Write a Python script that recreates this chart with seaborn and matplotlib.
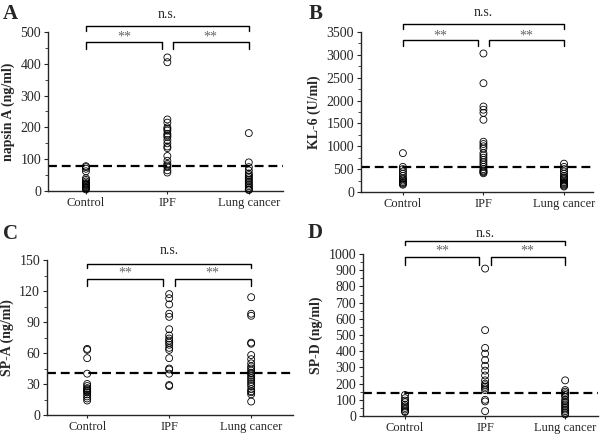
import matplotlib
matplotlib.use("Agg")
import matplotlib.pyplot as plt
import matplotlib.transforms as mtransforms
from matplotlib.ticker import MultipleLocator
import pandas as pd
import seaborn as sns

groups = ["Control", "IPF", "Lung cancer"]

# napsin A (ng/ml)
napsin_control = [5, 8, 10, 12, 15, 18, 20, 22, 25, 30, 35, 40, 62, 70, 75, 78]
napsin_ipf = [420, 405, 225, 215, 200, 195, 190, 180, 175, 170, 160, 150, 140,
              135, 110, 95, 85, 80, 75, 65, 58]
napsin_lung = [182, 90, 75, 65, 55, 50, 45, 40, 35, 30, 25, 20, 15, 10, 5, 3]
napsin_cutoff = 78

# KL-6 (U/ml)
kl6_control = [850, 550, 500, 450, 400, 350, 300, 280, 250, 220, 200, 180, 160]
kl6_ipf = [3030, 2380, 1870, 1800, 1730, 1580, 1100, 1050, 1000, 950, 850, 800,
           750, 700, 650, 600, 550, 500, 470, 450, 430, 410]
kl6_lung = [620, 550, 500, 450, 400, 350, 320, 300, 280, 250, 220, 200, 180,
            160, 140, 120]
kl6_cutoff = 550

# SP-A (ng/ml)
spa_control = [64, 63, 55, 40, 30, 28, 26, 25, 24, 23, 22, 20, 18, 16, 14]
spa_ipf = [117, 113, 107, 98, 95, 83, 77, 74, 72, 70, 68, 65, 63, 55, 45, 44,
           40, 29, 28]
spa_lung = [114, 98, 96, 70, 69, 58, 54, 50, 47, 45, 43, 41, 40, 38, 36, 34,
            32, 30, 28, 25, 23, 22, 20, 13]
spa_cutoff = 41

# SP-D (ng/ml)
spd_control = [130, 110, 95, 85, 70, 60, 50, 40, 30, 25]
spd_ipf = [910, 530, 420, 385, 345, 310, 280, 250, 220, 200, 190, 180, 170,
           160, 100, 90, 30]
spd_lung = [220, 160, 150, 140, 130, 120, 100, 90, 80, 70, 60, 50, 40, 30, 20, 10]
spd_cutoff = 140

sns.set_style("ticks")
plt.rcParams["font.family"] = ["Liberation Serif", "DejaVu Serif"]


def make_df(a, b, c):
    rows = [(groups[0], v) for v in a] + [(groups[1], v) for v in b] + [(groups[2], v) for v in c]
    return pd.DataFrame(rows, columns=["Group", "Value"])


panels = [
    # letter, data, cutoff, ylabel, ylim, major, minor, rect(px), xlim, letter pos, bracket y's
    ("A", make_df(napsin_control, napsin_ipf, napsin_lung), napsin_cutoff,
     "napsin A (ng/ml)", 500, 100, 50, (48, 283, 32, 191), (-0.466, 2.42), (3, 14),
     (1.038, 1.006, 0.937, 0.893, 1.113, 0.969)),
    ("B", make_df(kl6_control, kl6_ipf, kl6_lung), kl6_cutoff,
     "KL-6 (U/ml)", 3500, 500, 250, (361, 593, 32, 192), (-0.52, 2.36), (309, 14),
     (1.05, 1.02, 0.95, 0.912, 1.119, 0.975)),
    ("C", make_df(spa_control, spa_ipf, spa_lung), spa_cutoff,
     "SP-A (ng/ml)", 150, 30, 15, (47, 293, 260, 415), (-0.49, 2.51), (3, 234),
     (0.976, 0.948, 0.877, 0.83, 1.06, 0.916)),
    ("D", make_df(spd_control, spd_ipf, spd_lung), spd_cutoff,
     "SP-D (ng/ml)", 1000, 100, 50, (363, 598, 254, 416), (-0.525, 2.41), (308, 233),
     (1.082, 1.054, 0.982, 0.934, 1.129, 1.017)),
]

W, H = 600, 436
fig = plt.figure(figsize=(6.0, 4.36), dpi=100)

for letter, df, cutoff, ylabel, ymax, major, minor, rect, xlim, lpos, by in panels:
    l, r, t, b = rect
    ax = fig.add_axes([l / W, (H - b) / H, (r - l) / W, (b - t) / H])
    sns.stripplot(data=df, x="Group", y="Value", order=groups, jitter=False,
                  color="white", edgecolor="black", linewidth=0.6, size=5,
                  ax=ax, clip_on=False, zorder=3)
    for coll in ax.collections:
        coll.set_facecolor("none")
    ax.axhline(cutoff, color="black", ls=(0, (4, 2.2)), lw=1.6, zorder=2)
    ax.set_xlim(*xlim)
    ax.set_ylim(0, ymax)
    ax.yaxis.set_major_locator(MultipleLocator(major))
    ax.yaxis.set_minor_locator(MultipleLocator(minor))
    ax.tick_params(axis="y", which="major", length=3, width=0.8, labelsize=10, pad=2)
    ax.tick_params(axis="y", which="minor", length=2, width=0.6)
    ax.tick_params(axis="x", length=2.5, width=0.8, labelsize=9, pad=1.5)
    ax.set_xlabel("")
    ax.set_ylabel(ylabel, fontsize=10, fontweight="bold", labelpad=4)
    sns.despine(ax=ax)
    for s in ("left", "bottom"):
        ax.spines[s].set_linewidth(1.0)

    # significance brackets
    tr = mtransforms.blended_transform_factory(ax.transData, ax.transAxes)
    top, top_leg, inner, inner_leg, ns_y, star_y = by
    ax.plot([0, 0, 2, 2], [top_leg, top, top, top_leg], color="black", lw=1.0,
            transform=tr, clip_on=False)
    ax.plot([0, 0, 0.93, 0.93], [inner_leg, inner, inner, inner_leg], color="black",
            lw=1.0, transform=tr, clip_on=False)
    ax.plot([1.07, 1.07, 2, 2], [inner_leg, inner, inner, inner_leg], color="black",
            lw=1.0, transform=tr, clip_on=False)
    ax.text(1, ns_y, "n.s.", ha="center", va="center", fontsize=10,
            transform=tr)
    ax.text(0.47, star_y, "**", ha="center", va="center", fontsize=10,
            color="#666666", transform=tr)
    ax.text(1.53, star_y, "**", ha="center", va="center", fontsize=10,
            color="#666666", transform=tr)

    fig.text(lpos[0] / W, 1 - lpos[1] / H, letter, fontsize=15, fontweight="bold",
             ha="left", va="center")

fig.savefig("out.png", dpi=100)
